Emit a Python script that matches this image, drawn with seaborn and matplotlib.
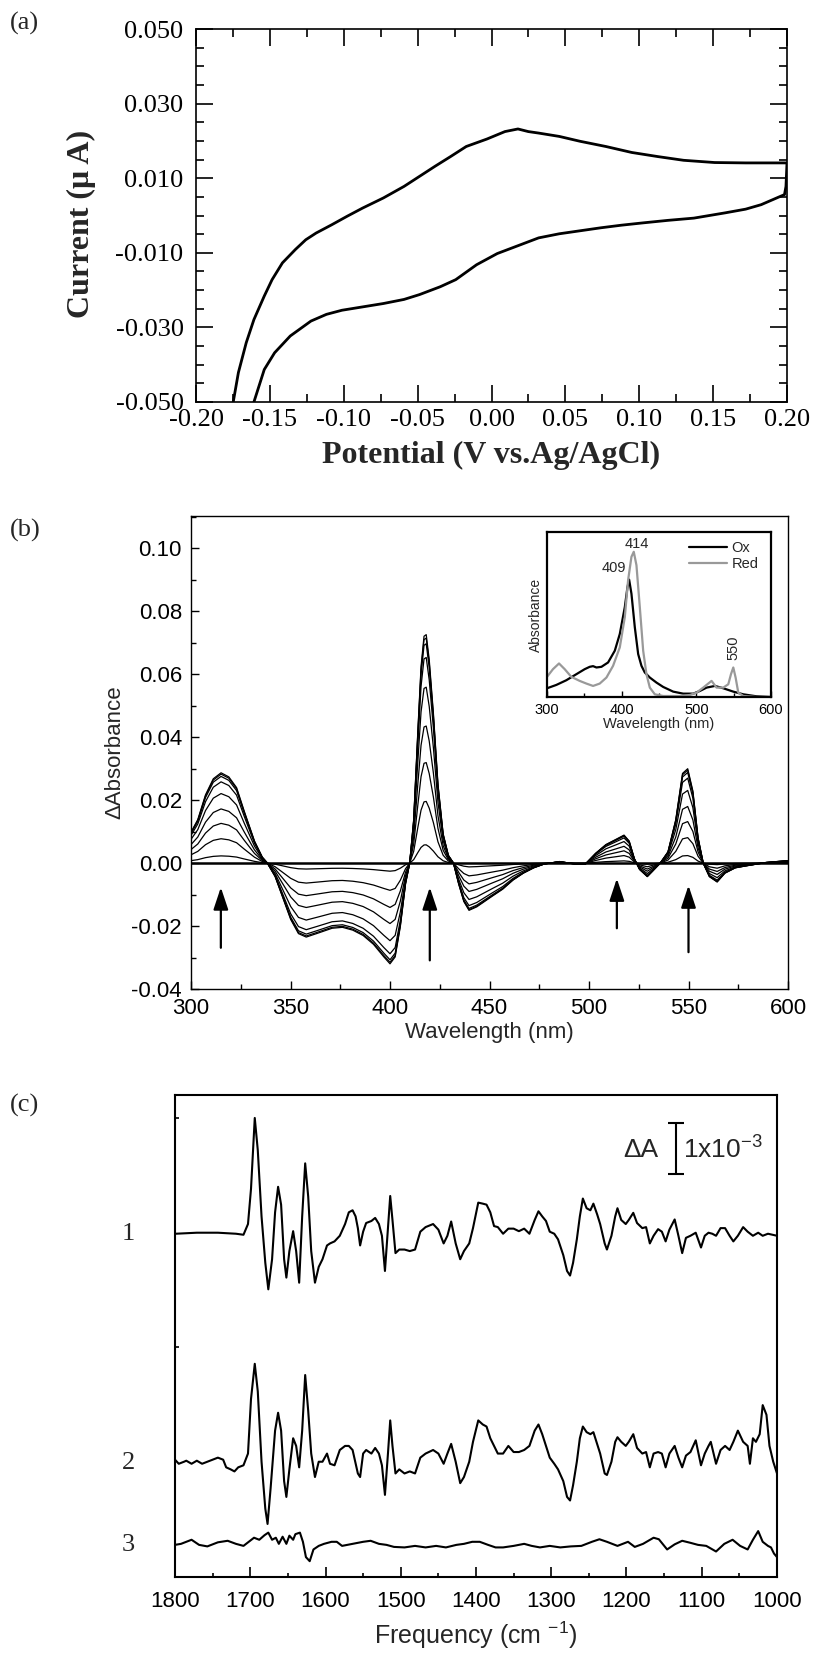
import numpy as np
import pandas as pd
import seaborn as sns
import matplotlib.pyplot as plt
from matplotlib.ticker import MultipleLocator, FormatStrFormatter, NullFormatter

# ---------------- (a) cyclic voltammogram ----------------
cv_fwd_v = [-0.1748, -0.1713, -0.1660, -0.1608, -0.1538, -0.1485, -0.1415, -0.1327,
            -0.1257, -0.1187, -0.1082, -0.0977, -0.0872, -0.0732, -0.0592, -0.0487,
            -0.0382, -0.0277, -0.0171, -0.0031, 0.0091, 0.0179, 0.0249, 0.0319,
            0.0459, 0.0599, 0.0774, 0.0949, 0.1125, 0.1300, 0.1510, 0.1720, 0.2000]
cv_fwd_i = [-0.0500, -0.0421, -0.0341, -0.0279, -0.0216, -0.0172, -0.0127, -0.0091,
            -0.0065, -0.0047, -0.0025, -0.0002, 0.0020, 0.0047, 0.0078, 0.0105,
            0.0132, 0.0158, 0.0185, 0.0205, 0.0225, 0.0232, 0.0225, 0.0221,
            0.0212, 0.0199, 0.0185, 0.0169, 0.0158, 0.0148, 0.0142, 0.0141, 0.0141]
cv_rev_v = [0.1993, 0.1983, 0.1930, 0.1825, 0.1720, 0.1580, 0.1370, 0.1195, 0.1020,
            0.0879, 0.0739, 0.0599, 0.0459, 0.0319, 0.0179, 0.0039, -0.0101, -0.0242,
            -0.0347, -0.0487, -0.0592, -0.0732, -0.0872, -0.1012, -0.1117, -0.1222,
            -0.1362, -0.1468, -0.1538, -0.1608]
cv_rev_i = [0.0078, 0.0056, 0.0047, 0.0029, 0.0017, 0.0007, -0.0007, -0.0013, -0.0020,
            -0.0026, -0.0033, -0.0041, -0.0049, -0.0060, -0.0081, -0.0102, -0.0132, -0.0172,
            -0.0191, -0.0212, -0.0225, -0.0236, -0.0245, -0.0254, -0.0265, -0.0283,
            -0.0323, -0.0368, -0.0413, -0.0500]

# ---------------- (b) spectroelectrochemical difference spectra ----------------
diff_wl = [300.0, 303.4, 307.3, 311.2, 315.1, 319.0, 322.9, 326.7, 331.9, 335.8, 338.4,
           342.3, 346.2, 350.1, 354.0, 357.9, 363.1, 370.9, 376.1, 381.3, 386.5, 391.7,
           396.9, 400.0, 402.6, 405.2, 407.8, 409.9, 411.9, 414.0, 415.6, 417.1, 418.2,
           419.7, 421.8, 424.1, 426.7, 429.3, 431.9, 434.5, 437.1, 439.7, 443.6, 447.5,
           451.4, 456.6, 461.8, 467.0, 472.2, 477.4, 485.2, 493.0, 498.2, 503.3, 508.5,
           513.7, 517.6, 520.2, 522.8, 525.4, 529.3, 531.9, 535.8, 539.7, 543.6, 547.0,
           549.6, 552.2, 554.8, 557.4, 560.5, 564.4, 568.3, 573.5, 578.7, 589.0, 600.0]
diff_max = [0.0098, 0.0138, 0.0217, 0.0268, 0.0287, 0.0274, 0.0240, 0.0166, 0.0070, 0.0019, 0.0,
            -0.0043, -0.0111, -0.0179, -0.0224, -0.0235, -0.0224, -0.0207, -0.0204, -0.0213, -0.0230,
            -0.0258, -0.0298, -0.0320, -0.0298, -0.0201, -0.0066, 0.0, 0.0138, 0.0421, 0.0624,
            0.0721, 0.0726, 0.0647, 0.0477, 0.0251, 0.0093, 0.0025, 0.0, -0.0066, -0.0122,
            -0.0150, -0.0139, -0.0122, -0.0105, -0.0083, -0.0054, -0.0032, -0.0015, -0.0003,
            0.0005, -0.0003, -0.0003, 0.0031, 0.0059, 0.0076, 0.0089, 0.0070, 0.0014, -0.0020,
            -0.0043, -0.0026, 0.0, 0.0036, 0.0138, 0.0285, 0.0300, 0.0229, 0.0081, 0.0,
            -0.0043, -0.0060, -0.0032, -0.0015, -0.0009, 0.0002, 0.0008]
diff_scale = [1.0, 0.985, 0.96, 0.9, 0.77, 0.6, 0.44, 0.27, 0.08, 0.0]
arrow_wl = [315, 420, 514, 550]
arrow_tail = [-0.0269, -0.0309, -0.0207, -0.0283]
arrow_tip = [-0.0077, -0.0077, -0.0049, -0.0071]

ox_wl = [300, 312.5, 325.9, 339.3, 350.5, 357.2, 361.7, 366.2, 372.9, 381.8, 390.8, 397.5,
         404.2, 407.8, 410.0, 413.1, 417.6, 422.1, 426.5, 431.0, 437.7, 446.6, 455.6, 469.0,
         482.4, 495.8, 504.8, 513.7, 524.9, 536.1, 549.5, 562.9, 580.8, 600]
ox_abs = [0.065, 0.09, 0.125, 0.17, 0.2075, 0.225, 0.23, 0.22, 0.225, 0.2575, 0.345, 0.47,
          0.67, 0.82, 0.875, 0.77, 0.52, 0.32, 0.2325, 0.1825, 0.145, 0.1075, 0.075, 0.04,
          0.025, 0.025, 0.045, 0.07, 0.0825, 0.065, 0.04, 0.02, 0.005, 0.0]
red_wl = [300, 308.0, 316.1, 323.7, 332.6, 343.8, 352.8, 361.7, 370.6, 379.6, 388.5, 397.5,
          404.2, 408.6, 413.1, 416.2, 419.8, 424.3, 428.8, 433.2, 437.7, 444.4, 455.6, 478.0,
          491.4, 500.3, 509.2, 520.4, 527.1, 536.1, 542.8, 546.4, 549.5, 552.6, 556.2, 562.9,
          580.8, 600]
red_abs = [0.15, 0.2075, 0.25, 0.2075, 0.15, 0.12, 0.10, 0.0825, 0.10, 0.145, 0.2325, 0.37,
           0.595, 0.87, 1.045, 1.0825, 0.9825, 0.67, 0.345, 0.17, 0.07, 0.02, 0.0075, 0.0075,
           0.015, 0.0325, 0.07, 0.12, 0.07, 0.07, 0.095, 0.17, 0.22, 0.145, 0.0325, 0.0075,
           0.0, 0.0]

# ---------------- (c) FTIR difference spectra (units of 1e-3) ----------------
ir1_freq = [1799, 1771, 1743, 1719, 1709, 1703, 1699, 1694, 1690, 1685, 1680, 1676, 1671, 1667,
            1663, 1659, 1655, 1652, 1648, 1643, 1639, 1635, 1631, 1627, 1623, 1619, 1614, 1609,
            1604, 1598, 1594, 1588, 1581, 1574, 1569, 1564, 1560, 1557, 1554, 1550, 1546, 1539,
            1534, 1529, 1525, 1521, 1517, 1514, 1511, 1507, 1502, 1495, 1488, 1481, 1474, 1467,
            1457, 1450, 1443, 1438, 1433, 1427, 1421, 1416, 1409, 1404, 1397, 1391, 1386, 1381,
            1376, 1371, 1364, 1357, 1350, 1343, 1336, 1329, 1322, 1317, 1312, 1307, 1302, 1296,
            1291, 1284, 1279, 1275, 1271, 1266, 1262, 1258, 1253, 1248, 1244, 1239, 1235, 1229,
            1226, 1220, 1215, 1212, 1207, 1201, 1197, 1191, 1186, 1179, 1174, 1169, 1164, 1158,
            1153, 1148, 1143, 1136, 1131, 1126, 1121, 1115, 1108, 1101, 1096, 1091, 1086, 1081,
            1075, 1069, 1063, 1058, 1052, 1045, 1039, 1032, 1025, 1019, 1012, 1000]
ir1_val = [0.00, 0.02, 0.02, 0.00, -0.02, 0.19, 0.88, 2.27, 1.64, 0.34, -0.57, -1.09, -0.50, 0.42,
           0.92, 0.57, -0.50, -0.86, -0.34, 0.05, -0.34, -0.96, 0.34, 1.38, 0.73, -0.34, -0.96, -0.65,
           -0.50, -0.23, -0.19, -0.15, -0.04, 0.19, 0.42, 0.46, 0.34, 0.11, -0.23, 0.04, 0.21, 0.25,
           0.31, 0.19, -0.04, -0.73, 0.11, 0.74, 0.27, -0.38, -0.31, -0.31, -0.34, -0.31, 0.04, 0.13,
           0.19, 0.08, -0.19, -0.04, 0.24, -0.19, -0.50, -0.34, -0.19, 0.11, 0.61, 0.59, 0.57, 0.42,
           0.15, 0.13, 0.00, 0.10, 0.10, 0.05, 0.10, 0.00, 0.27, 0.44, 0.34, 0.25, 0.04, 0.00,
           -0.11, -0.42, -0.73, -0.82, -0.57, -0.11, 0.34, 0.69, 0.50, 0.46, 0.59, 0.38, 0.19, -0.19,
           -0.31, -0.04, 0.34, 0.50, 0.27, 0.19, 0.27, 0.41, 0.21, 0.11, 0.13, -0.19, -0.04, 0.09,
           0.04, -0.15, 0.08, 0.28, -0.04, -0.38, -0.08, -0.04, 0.02, -0.27, -0.04, 0.02, 0.00, -0.04,
           0.11, 0.11, -0.04, -0.15, -0.04, 0.13, 0.04, -0.04, 0.02, -0.04, 0.00, -0.04]
ir2_freq = [1800, 1795, 1788, 1785, 1778, 1771, 1764, 1757, 1750, 1743, 1736, 1732, 1726, 1721,
            1716, 1709, 1703, 1699, 1694, 1690, 1685, 1680, 1677, 1673, 1667, 1663, 1659, 1655,
            1652, 1648, 1643, 1639, 1635, 1631, 1627, 1623, 1619, 1614, 1609, 1604, 1598, 1594,
            1588, 1581, 1574, 1569, 1564, 1557, 1554, 1550, 1546, 1539, 1534, 1529, 1525, 1521,
            1517, 1514, 1511, 1507, 1502, 1495, 1488, 1481, 1474, 1467, 1457, 1450, 1443, 1438,
            1433, 1427, 1421, 1416, 1409, 1404, 1397, 1391, 1386, 1381, 1376, 1371, 1364, 1357,
            1350, 1343, 1336, 1329, 1322, 1317, 1312, 1307, 1302, 1296, 1291, 1284, 1279, 1275,
            1271, 1266, 1262, 1258, 1253, 1248, 1244, 1239, 1235, 1229, 1226, 1220, 1215, 1212,
            1207, 1201, 1197, 1191, 1186, 1179, 1174, 1169, 1164, 1158, 1153, 1148, 1143, 1136,
            1131, 1126, 1121, 1115, 1108, 1101, 1096, 1091, 1088, 1081, 1075, 1069, 1063, 1058,
            1052, 1045, 1039, 1036, 1032, 1028, 1023, 1019, 1014, 1010, 1005, 1000]
ir2_val = [0.06, -0.02, 0.02, 0.04, -0.02, 0.04, -0.02, 0.02, 0.06, 0.10, 0.06, -0.09, -0.13, -0.17,
           -0.09, -0.05, 0.18, 1.25, 1.94, 1.40, 0.02, -0.90, -1.20, -0.51, 0.63, 0.98, 0.63, -0.36,
           -0.67, -0.13, 0.48, 0.33, -0.09, 0.63, 1.72, 1.02, 0.18, -0.28, 0.02, 0.02, 0.18, -0.02,
           -0.05, 0.25, 0.33, 0.33, 0.25, -0.21, -0.28, 0.18, 0.25, 0.18, 0.29, 0.18, -0.05, -0.63,
           0.18, 0.83, 0.33, -0.21, -0.13, -0.21, -0.17, -0.21, 0.10, 0.18, 0.25, 0.18, -0.02, 0.18,
           0.37, 0.02, -0.40, -0.28, 0.02, 0.41, 0.83, 0.75, 0.71, 0.48, 0.33, 0.18, 0.18, 0.33,
           0.21, 0.21, 0.25, 0.33, 0.63, 0.75, 0.56, 0.33, 0.10, -0.02, -0.13, -0.36, -0.67, -0.74,
           -0.44, 0.02, 0.48, 0.71, 0.60, 0.56, 0.60, 0.37, 0.18, -0.21, -0.24, 0.02, 0.41, 0.50,
           0.41, 0.33, 0.41, 0.56, 0.29, 0.18, 0.21, -0.09, 0.18, 0.21, 0.18, -0.09, 0.18, 0.33,
           0.10, -0.09, 0.14, 0.21, 0.44, -0.05, 0.18, 0.33, 0.41, -0.02, 0.25, 0.33, 0.25, 0.41,
           0.63, 0.41, 0.33, -0.02, 0.48, 0.41, 0.56, 1.13, 0.94, 0.33, 0.02, -0.21]
ir3_freq = [1800, 1792, 1778, 1768, 1757, 1743, 1730, 1719, 1709, 1702, 1695, 1688, 1681, 1676,
            1671, 1666, 1662, 1657, 1652, 1648, 1643, 1640, 1634, 1630, 1626, 1621, 1616, 1609,
            1602, 1592, 1585, 1578, 1564, 1550, 1540, 1529, 1519, 1509, 1495, 1481, 1467, 1453,
            1440, 1426, 1416, 1405, 1395, 1384, 1374, 1364, 1350, 1336, 1326, 1315, 1302, 1288,
            1274, 1260, 1246, 1236, 1226, 1212, 1198, 1189, 1178, 1164, 1157, 1146, 1136, 1126,
            1115, 1105, 1094, 1081, 1070, 1059, 1049, 1039, 1032, 1025, 1019, 1012, 1008, 1004, 1000]
ir3_val = [0.00, 0.02, 0.10, 0.00, -0.03, 0.05, 0.08, 0.02, -0.02, 0.06, 0.14, 0.10, 0.19, 0.24,
           0.10, 0.14, 0.02, 0.16, 0.02, 0.18, 0.10, 0.21, 0.24, 0.06, -0.24, -0.32, -0.09, -0.02,
           0.02, 0.06, 0.06, -0.02, 0.02, 0.06, 0.08, 0.02, 0.00, -0.04, -0.05, -0.02, -0.05, -0.02,
           -0.05, 0.00, 0.02, 0.06, 0.06, 0.00, -0.05, -0.05, -0.02, 0.02, -0.02, -0.05, -0.02, -0.05,
           -0.03, -0.02, 0.06, 0.11, 0.06, -0.02, 0.06, -0.04, 0.02, 0.14, 0.11, -0.09, 0.01, 0.08,
           0.04, 0.00, -0.02, -0.13, 0.02, 0.10, -0.02, -0.09, 0.10, 0.27, 0.06, -0.02, -0.05, -0.17, -0.24]
ir_offsets = [6.73, 2.24, 0.63]
ir_labels = ["1", "2", "3"]
scalebar_freq = 1134
scalebar_lo, scalebar_hi = 7.9, 8.9

# ---------------- figure ----------------
sns.set_theme(style="ticks")
plt.rcParams["font.family"] = ["Liberation Sans", "DejaVu Sans"]
plt.rcParams["axes.unicode_minus"] = False
plt.rcParams["mathtext.fontset"] = "custom"
plt.rcParams["mathtext.rm"] = "Liberation Sans"
plt.rcParams["mathtext.it"] = "Liberation Sans:italic"
plt.rcParams["mathtext.bf"] = "Liberation Sans:bold"

W, H = 813, 1653
fig = plt.figure(figsize=(W / 100, H / 100), dpi=100)


def box(l, t, r, b):
    return [l / W, 1 - b / H, (r - l) / W, (b - t) / H]


serif = "Liberation Serif"

# ---- panel (a)
ax_a = fig.add_axes(box(196, 29, 787, 402))
cv = pd.DataFrame({"V": cv_fwd_v + cv_rev_v, "I": cv_fwd_i + cv_rev_i})
sns.lineplot(data=cv, x="V", y="I", sort=False, estimator=None, color="black",
             lw=2.0, ax=ax_a)
ax_a.set_xlim(-0.2, 0.2)
ax_a.set_ylim(-0.05, 0.05)
ax_a.xaxis.set_major_locator(MultipleLocator(0.05))
ax_a.xaxis.set_minor_locator(MultipleLocator(0.025))
ax_a.xaxis.set_major_formatter(FormatStrFormatter("%.2f"))
ax_a.set_yticks([-0.05, -0.03, -0.01, 0.01, 0.03, 0.05])
ax_a.yaxis.set_minor_locator(MultipleLocator(0.005))
ax_a.yaxis.set_major_formatter(FormatStrFormatter("%.3f"))
ax_a.tick_params(which="both", direction="in", top=True, right=True, width=1.2,
                 labelsize=19, labelfontfamily=serif, colors="black")
ax_a.tick_params(which="major", length=12)
ax_a.tick_params(which="minor", length=6)
ax_a.tick_params(axis="x", pad=5)
ax_a.tick_params(axis="y", pad=9)
ax_a.set_xlabel("Potential (V vs.Ag/AgCl)", fontfamily=serif, fontweight="bold", fontsize=23)
ax_a.set_ylabel("Current (\u03bc A)", fontfamily=serif, fontweight="bold", fontsize=23)
ax_a.xaxis.set_label_coords(0.5, -0.103)
ax_a.yaxis.set_label_coords(-0.17, 0.477)
for s in ax_a.spines.values():
    s.set_linewidth(1.2)
    s.set_color("black")

# ---- panel (b)
ax_b = fig.add_axes(box(191, 516, 788, 989))
diff = pd.concat([pd.DataFrame({"wl": diff_wl, "dA": np.array(diff_max) * s, "curve": k})
                  for k, s in enumerate(diff_scale)])
sns.lineplot(data=diff, x="wl", y="dA", units="curve", estimator=None, color="black",
             lw=0.9, ax=ax_b)
# the unchanged (zero) trace sits on the baseline and reads as a heavier line
ax_b.lines[-1].set_linewidth(1.8)
ax_b.set_xlim(300, 600)
ax_b.set_ylim(-0.04, 0.1103)
ax_b.xaxis.set_major_locator(MultipleLocator(50))
ax_b.xaxis.set_minor_locator(MultipleLocator(25))
ax_b.yaxis.set_major_locator(MultipleLocator(0.02))
ax_b.yaxis.set_minor_locator(MultipleLocator(0.01))
ax_b.yaxis.set_major_formatter(FormatStrFormatter("%.2f"))
ax_b.tick_params(which="both", direction="in", width=1.0, labelsize=16, pad=6.5, colors="black")
ax_b.tick_params(which="major", length=6)
ax_b.tick_params(which="minor", length=3.5)
ax_b.set_xlabel("Wavelength (nm)", fontsize=16)
ax_b.set_ylabel("\u0394Absorbance", fontsize=16)
ax_b.xaxis.set_label_coords(0.5, -0.07)
ax_b.yaxis.set_label_coords(-0.11, 0.5)
for s in ax_b.spines.values():
    s.set_linewidth(1.0)
    s.set_color("black")
for x, y0, y1 in zip(arrow_wl, arrow_tail, arrow_tip):
    ax_b.annotate("", xy=(x, y1), xytext=(x, y0),
                  arrowprops=dict(arrowstyle="-|>,head_length=0.75,head_width=0.25",
                                  color="black", lw=1.6, mutation_scale=18,
                                  shrinkA=0, shrinkB=0))

# inset
ax_i = fig.add_axes(box(547, 532, 771, 697))
sns.lineplot(x=ox_wl, y=ox_abs, color="black", lw=1.6, label="Ox", ax=ax_i)
sns.lineplot(x=red_wl, y=red_abs, color="#999999", lw=1.6, label="Red", ax=ax_i)
ax_i.set_xlim(300, 600)
ax_i.set_ylim(0, 1.23)
ax_i.xaxis.set_major_locator(MultipleLocator(100))
ax_i.xaxis.set_minor_locator(MultipleLocator(50))
ax_i.set_yticks([])
ax_i.tick_params(which="both", direction="in", width=1.0, labelsize=10.5, pad=4, colors="black")
ax_i.tick_params(which="major", length=4)
ax_i.tick_params(which="minor", length=3)
ax_i.set_xlabel("Wavelength (nm)", fontsize=10.5, labelpad=0)
ax_i.set_ylabel("Absorbance", fontsize=10, labelpad=3)
for s in ax_i.spines.values():
    s.set_linewidth(1.6)
    s.set_color("black")
ax_i.legend(loc="upper right", bbox_to_anchor=(0.945, 0.945), frameon=False, fontsize=10.5,
            handlelength=2.6, handletextpad=0.3, labelspacing=0.15, borderpad=0,
            borderaxespad=0)
ax_i.text(420, 1.14, "414", fontsize=10.5, ha="center", va="center")
ax_i.text(390, 0.96, "409", fontsize=10.5, ha="center", va="center")
ax_i.text(550, 0.37, "550", fontsize=10.5, ha="center", va="center", rotation=90)

# ---- panel (c)
ax_c = fig.add_axes(box(175, 1095, 777, 1577))
ir = pd.concat([pd.DataFrame({"freq": f, "dA": np.array(v) + off, "trace": lab})
                for f, v, off, lab in zip([ir1_freq, ir2_freq, ir3_freq],
                                          [ir1_val, ir2_val, ir3_val], ir_offsets, ir_labels)])
sns.lineplot(data=ir, x="freq", y="dA", units="trace", estimator=None, sort=False,
             color="black", lw=1.5, ax=ax_c)
ax_c.set_xlim(1800, 1000)
ax_c.set_ylim(0, 9.45)
ax_c.xaxis.set_major_locator(MultipleLocator(100))
ax_c.xaxis.set_minor_locator(MultipleLocator(50))
ax_c.set_yticks([4.5, 9.0])
ax_c.yaxis.set_major_formatter(NullFormatter())
ax_c.tick_params(which="both", direction="in", width=1.2, labelsize=16, colors="black")
ax_c.tick_params(axis="x", which="major", length=7, pad=10)
ax_c.tick_params(axis="x", which="minor", length=3)
ax_c.tick_params(axis="y", length=3)
ax_c.set_xlabel("Frequency (cm $^{-1}$)", fontsize=18)
ax_c.set_ylabel("")
ax_c.xaxis.set_label_coords(0.5, -0.088)
for s in ax_c.spines.values():
    s.set_linewidth(1.5)
    s.set_color("black")
for off, lab in zip(ir_offsets, ir_labels):
    ax_c.text(-0.078, off, lab, transform=ax_c.get_yaxis_transform(), fontfamily=serif,
              fontsize=19, ha="center", va="center")
ax_c.errorbar([scalebar_freq], [(scalebar_lo + scalebar_hi) / 2],
              yerr=[(scalebar_hi - scalebar_lo) / 2], fmt="none", ecolor="black",
              elinewidth=1.5, capsize=6, capthick=1.5)
ax_c.text(1158, 8.37, "\u0394A", fontsize=19, ha="right", va="center")
ax_c.text(1125, 8.37, "1x10$^{-3}$", fontsize=19, ha="left", va="center")

# panel letters
fig.text(10 / W, 1 - 23 / H, "(a)", fontfamily=serif, fontsize=19, ha="left", va="center")
fig.text(10 / W, 1 - 530 / H, "(b)", fontfamily=serif, fontsize=19, ha="left", va="center")
fig.text(10 / W, 1 - 1105 / H, "(c)", fontfamily=serif, fontsize=19, ha="left", va="center")

fig.savefig("out.png", dpi=100)
